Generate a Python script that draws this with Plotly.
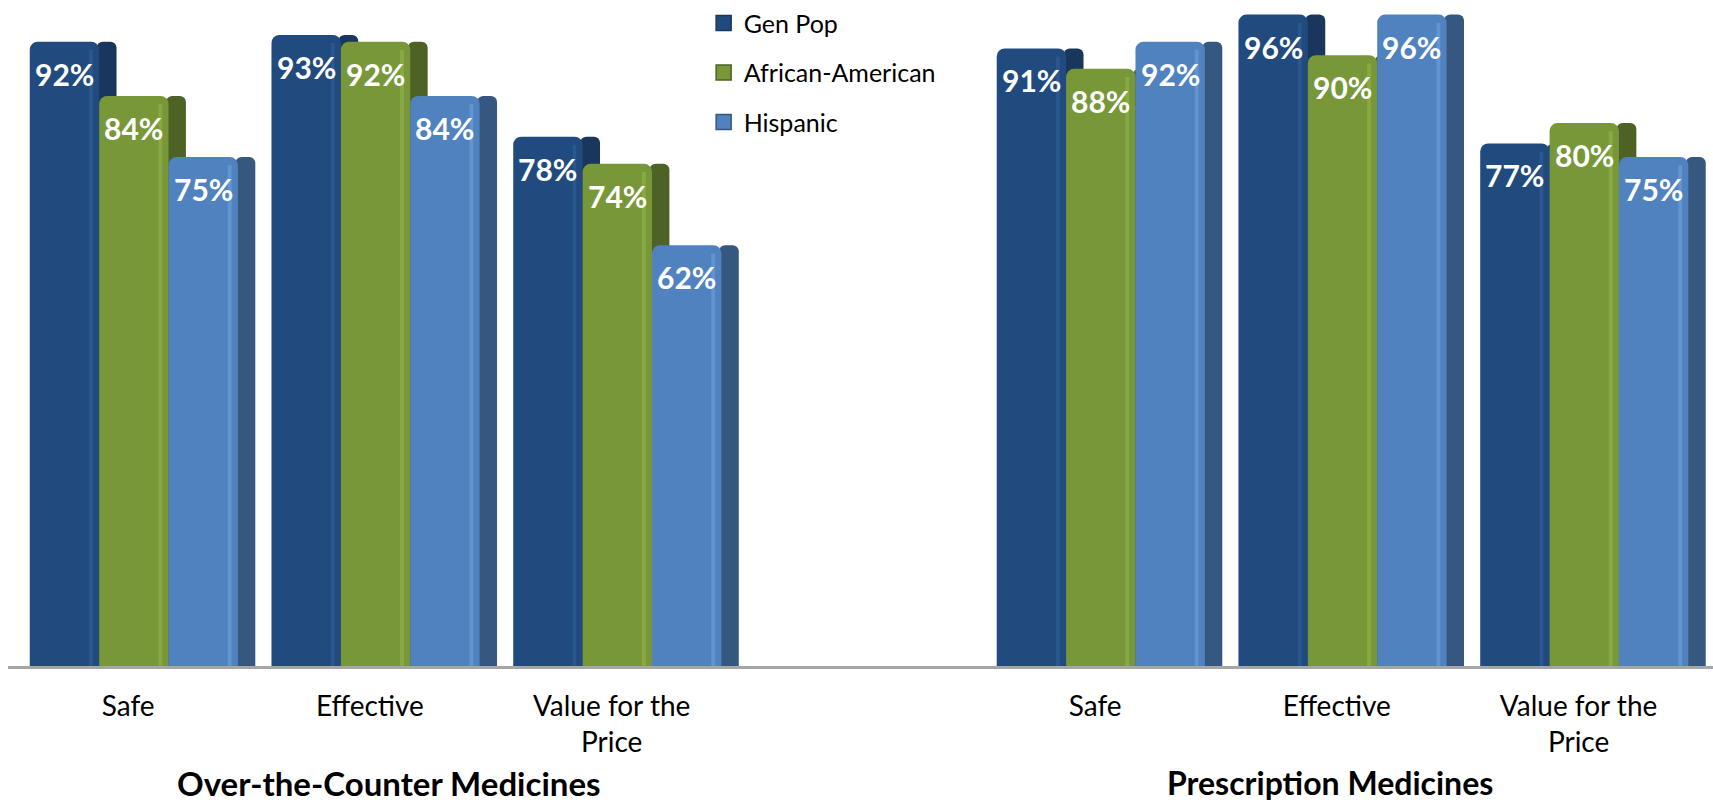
import plotly.graph_objects as go

# ---- data ----
x_pos = [0, 1, 2, 4, 5, 6]
tick_labels = ["Safe", "Effective", "Value for the<br>Price",
               "Safe", "Effective", "Value for the<br>Price"]
series_names = ["Gen Pop", "African-American", "Hispanic"]
gen_pop = [92, 93, 78, 91, 96, 77]
african_american = [84, 92, 74, 88, 90, 80]
hispanic = [75, 84, 62, 92, 96, 75]
group_titles = ["Over-the-Counter Medicines", "Prescription Medicines"]

# ---- styles ----
front_colors = ["#214A7E", "#789739", "#4F82BF"]
side_colors = ["#19365C", "#4E6226", "#36577F"]
hl_colors = ["#2A578D", "#87A943", "#6194D0"]
front_w = 0.287
side_w = 0.072
start_off = -0.407
FONT = "Lato, 'Open Sans', sans-serif"

values = [gen_pop, african_american, hispanic]
fig = go.Figure()

# side faces (drawn first, behind fronts)
for i, vals in enumerate(values):
    off = start_off + i * front_w + front_w - 0.01
    fig.add_trace(go.Bar(x=x_pos, y=vals, width=side_w + 0.01, offset=off,
                         marker=dict(color=side_colors[i], cornerradius=6, line=dict(width=0)),
                         showlegend=False, hoverinfo="skip"))

# front faces
for i, vals in enumerate(values):
    off = start_off + i * front_w
    fig.add_trace(go.Bar(x=x_pos, y=vals, width=front_w, offset=off, name=series_names[i],
                         marker=dict(color=front_colors[i], cornerradius=8, line=dict(width=0)),
                         showlegend=False))
    # highlight strip near right edge of front face
    fig.add_trace(go.Bar(x=x_pos, y=[v - 1.2 for v in vals], width=0.016,
                         offset=off + front_w - 0.042,
                         marker=dict(color=hl_colors[i], line=dict(width=0)),
                         showlegend=False, hoverinfo="skip"))

# legend entries (square swatches)
for i, name in enumerate(series_names):
    fig.add_trace(go.Scatter(x=[None], y=[None], mode="markers", name=name,
                             legendgroup=name,
                             marker=dict(symbol="square", size=15, color=front_colors[i],
                                         line=dict(color=side_colors[i], width=1.5))))

# value labels
annotations = []
for i, vals in enumerate(values):
    off = start_off + i * front_w
    for xp, v in zip(x_pos, vals):
        annotations.append(dict(x=xp + off + front_w / 2, y=v, xref="x", yref="y",
                                text=f"{v}%", showarrow=False, yanchor="middle",
                                yshift=-32,
                                font=dict(family=FONT, size=30, color="white", weight="bold")))

# group titles
annotations.append(dict(x=1.08, y=-0.176, xref="x", yref="paper", text=f"<b>{group_titles[0]}</b>",
                        showarrow=False, yanchor="middle",
                        font=dict(family=FONT, size=33, color="black")))
annotations.append(dict(x=4.97, y=-0.176, xref="x", yref="paper", text=f"<b>{group_titles[1]}</b>",
                        showarrow=False, yanchor="middle",
                        font=dict(family=FONT, size=32, color="black")))

fig.update_layout(
    width=1713, height=808,
    margin=dict(l=8, r=0, t=0, b=142),
    barmode="overlay",
    plot_bgcolor="white", paper_bgcolor="white",
    font=dict(family=FONT, color="black"),
    annotations=annotations,
    legend=dict(x=0.408, y=1.004, xanchor="left", yanchor="top",
                font=dict(family=FONT, size=25, color="black"),
                itemsizing="trace",
                traceorder="grouped", tracegroupgap=14, bgcolor="rgba(0,0,0,0)"),
    xaxis=dict(range=[-0.497, 6.556], tickvals=x_pos, ticktext=tick_labels,
               showline=True, linecolor="#A6A6A6", linewidth=3,
               ticks="outside", ticklen=13, tickcolor="rgba(0,0,0,0)",
               tickfont=dict(family=FONT, size=28, color="black"),
               showgrid=False, zeroline=False, fixedrange=True),
    yaxis=dict(range=[0, 97.7], visible=False, showgrid=False, zeroline=False, fixedrange=True),
)

fig.write_html("out.html", config={"displayModeBar": False},
               post_script="document.body.style.margin='0';")
